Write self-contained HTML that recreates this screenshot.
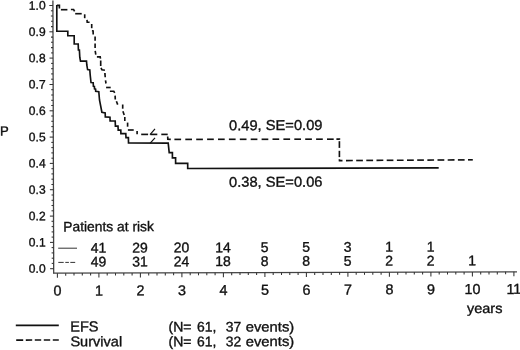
<!DOCTYPE html><html><head><meta charset="utf-8"><title>Figure</title><style>html,body{margin:0;padding:0;background:#fff}svg{display:block;will-change:transform}text{font-family:"Liberation Sans",Arial,sans-serif;fill:#111;stroke:#111;stroke-width:0.35px}</style></head><body>
<svg width="520" height="350" viewBox="0 0 520 350">
<rect width="520" height="350" fill="#fff"/>
<g stroke="#444" stroke-width="1.3" fill="none">
<line x1="52.9" y1="0.5" x2="53.7" y2="273.3"/>
<line x1="53" y1="273.2" x2="517" y2="271.8"/>
</g>
<g stroke="#333" stroke-width="1.05" fill="none">
<line x1="50.1" y1="268.7" x2="53.7" y2="268.7"/>
<line x1="51.7" y1="263.4" x2="53.7" y2="263.4"/>
<line x1="51.7" y1="258.2" x2="53.7" y2="258.2"/>
<line x1="51.6" y1="252.9" x2="53.6" y2="252.9"/>
<line x1="51.6" y1="247.6" x2="53.6" y2="247.6"/>
<line x1="50.0" y1="242.4" x2="53.6" y2="242.4"/>
<line x1="51.6" y1="237.1" x2="53.6" y2="237.1"/>
<line x1="51.6" y1="231.9" x2="53.6" y2="231.9"/>
<line x1="51.6" y1="226.6" x2="53.6" y2="226.6"/>
<line x1="51.5" y1="221.3" x2="53.5" y2="221.3"/>
<line x1="49.9" y1="216.1" x2="53.5" y2="216.1"/>
<line x1="51.5" y1="210.8" x2="53.5" y2="210.8"/>
<line x1="51.5" y1="205.5" x2="53.5" y2="205.5"/>
<line x1="51.5" y1="200.3" x2="53.5" y2="200.3"/>
<line x1="51.5" y1="195.0" x2="53.5" y2="195.0"/>
<line x1="49.9" y1="189.7" x2="53.5" y2="189.7"/>
<line x1="51.4" y1="184.5" x2="53.4" y2="184.5"/>
<line x1="51.4" y1="179.2" x2="53.4" y2="179.2"/>
<line x1="51.4" y1="173.9" x2="53.4" y2="173.9"/>
<line x1="51.4" y1="168.7" x2="53.4" y2="168.7"/>
<line x1="49.8" y1="163.4" x2="53.4" y2="163.4"/>
<line x1="51.4" y1="158.2" x2="53.4" y2="158.2"/>
<line x1="51.3" y1="152.9" x2="53.3" y2="152.9"/>
<line x1="51.3" y1="147.6" x2="53.3" y2="147.6"/>
<line x1="51.3" y1="142.4" x2="53.3" y2="142.4"/>
<line x1="49.7" y1="137.1" x2="53.3" y2="137.1"/>
<line x1="51.3" y1="131.8" x2="53.3" y2="131.8"/>
<line x1="51.3" y1="126.6" x2="53.3" y2="126.6"/>
<line x1="51.3" y1="121.3" x2="53.3" y2="121.3"/>
<line x1="51.2" y1="116.0" x2="53.2" y2="116.0"/>
<line x1="49.6" y1="110.8" x2="53.2" y2="110.8"/>
<line x1="51.2" y1="105.5" x2="53.2" y2="105.5"/>
<line x1="51.2" y1="100.3" x2="53.2" y2="100.3"/>
<line x1="51.2" y1="95.0" x2="53.2" y2="95.0"/>
<line x1="51.2" y1="89.7" x2="53.2" y2="89.7"/>
<line x1="49.5" y1="84.5" x2="53.1" y2="84.5"/>
<line x1="51.1" y1="79.2" x2="53.1" y2="79.2"/>
<line x1="51.1" y1="73.9" x2="53.1" y2="73.9"/>
<line x1="51.1" y1="68.7" x2="53.1" y2="68.7"/>
<line x1="51.1" y1="63.4" x2="53.1" y2="63.4"/>
<line x1="49.5" y1="58.1" x2="53.1" y2="58.1"/>
<line x1="51.1" y1="52.9" x2="53.1" y2="52.9"/>
<line x1="51.0" y1="47.6" x2="53.0" y2="47.6"/>
<line x1="51.0" y1="42.3" x2="53.0" y2="42.3"/>
<line x1="51.0" y1="37.1" x2="53.0" y2="37.1"/>
<line x1="49.4" y1="31.8" x2="53.0" y2="31.8"/>
<line x1="51.0" y1="26.6" x2="53.0" y2="26.6"/>
<line x1="51.0" y1="21.3" x2="53.0" y2="21.3"/>
<line x1="50.9" y1="16.0" x2="52.9" y2="16.0"/>
<line x1="50.9" y1="10.8" x2="52.9" y2="10.8"/>
<line x1="49.3" y1="5.5" x2="52.9" y2="5.5"/>
<line x1="57.4" y1="273.2" x2="57.4" y2="277.7"/>
<line x1="65.7" y1="273.2" x2="65.7" y2="275.7"/>
<line x1="74.0" y1="273.1" x2="74.0" y2="275.6"/>
<line x1="82.3" y1="273.1" x2="82.3" y2="275.6"/>
<line x1="90.6" y1="273.1" x2="90.6" y2="275.6"/>
<line x1="98.9" y1="273.1" x2="98.9" y2="277.6"/>
<line x1="107.2" y1="273.0" x2="107.2" y2="275.5"/>
<line x1="115.5" y1="273.0" x2="115.5" y2="275.5"/>
<line x1="123.8" y1="273.0" x2="123.8" y2="275.5"/>
<line x1="132.1" y1="273.0" x2="132.1" y2="275.5"/>
<line x1="140.4" y1="272.9" x2="140.4" y2="277.4"/>
<line x1="148.7" y1="272.9" x2="148.7" y2="275.4"/>
<line x1="157.0" y1="272.9" x2="157.0" y2="275.4"/>
<line x1="165.3" y1="272.9" x2="165.3" y2="275.4"/>
<line x1="173.6" y1="272.8" x2="173.6" y2="275.3"/>
<line x1="181.9" y1="272.8" x2="181.9" y2="277.3"/>
<line x1="190.2" y1="272.8" x2="190.2" y2="275.3"/>
<line x1="198.5" y1="272.8" x2="198.5" y2="275.3"/>
<line x1="206.8" y1="272.7" x2="206.8" y2="275.2"/>
<line x1="215.1" y1="272.7" x2="215.1" y2="275.2"/>
<line x1="223.4" y1="272.7" x2="223.4" y2="277.2"/>
<line x1="231.7" y1="272.7" x2="231.7" y2="275.2"/>
<line x1="240.0" y1="272.6" x2="240.0" y2="275.1"/>
<line x1="248.3" y1="272.6" x2="248.3" y2="275.1"/>
<line x1="256.6" y1="272.6" x2="256.6" y2="275.1"/>
<line x1="264.9" y1="272.6" x2="264.9" y2="277.1"/>
<line x1="273.2" y1="272.5" x2="273.2" y2="275.0"/>
<line x1="281.5" y1="272.5" x2="281.5" y2="275.0"/>
<line x1="289.8" y1="272.5" x2="289.8" y2="275.0"/>
<line x1="298.1" y1="272.5" x2="298.1" y2="275.0"/>
<line x1="306.4" y1="272.4" x2="306.4" y2="276.9"/>
<line x1="314.7" y1="272.4" x2="314.7" y2="274.9"/>
<line x1="323.0" y1="272.4" x2="323.0" y2="274.9"/>
<line x1="331.3" y1="272.4" x2="331.3" y2="274.9"/>
<line x1="339.6" y1="272.3" x2="339.6" y2="274.8"/>
<line x1="347.9" y1="272.3" x2="347.9" y2="276.8"/>
<line x1="356.2" y1="272.3" x2="356.2" y2="274.8"/>
<line x1="364.5" y1="272.3" x2="364.5" y2="274.8"/>
<line x1="372.8" y1="272.2" x2="372.8" y2="274.7"/>
<line x1="381.1" y1="272.2" x2="381.1" y2="274.7"/>
<line x1="389.4" y1="272.2" x2="389.4" y2="276.7"/>
<line x1="397.7" y1="272.2" x2="397.7" y2="274.7"/>
<line x1="406.0" y1="272.1" x2="406.0" y2="274.6"/>
<line x1="414.3" y1="272.1" x2="414.3" y2="274.6"/>
<line x1="422.6" y1="272.1" x2="422.6" y2="274.6"/>
<line x1="430.9" y1="272.1" x2="430.9" y2="276.6"/>
<line x1="439.2" y1="272.0" x2="439.2" y2="274.5"/>
<line x1="447.5" y1="272.0" x2="447.5" y2="274.5"/>
<line x1="455.8" y1="272.0" x2="455.8" y2="274.5"/>
<line x1="464.1" y1="272.0" x2="464.1" y2="274.5"/>
<line x1="472.4" y1="271.9" x2="472.4" y2="276.4"/>
<line x1="480.7" y1="271.9" x2="480.7" y2="274.4"/>
<line x1="489.0" y1="271.9" x2="489.0" y2="274.4"/>
<line x1="497.3" y1="271.9" x2="497.3" y2="274.4"/>
<line x1="505.6" y1="271.8" x2="505.6" y2="274.3"/>
<line x1="513.9" y1="271.8" x2="513.9" y2="276.3"/>
</g>
<g stroke="#111" stroke-width="1.65" fill="none" stroke-linejoin="miter">
<polyline points="56.8,5.0 56.8,31.2 67.8,31.2 67.8,35.7 74.2,35.7 74.2,44 78.2,44 78.4,50 79.4,50 79.8,57.5 80.5,61.1 86.5,61.1 86.8,65 87.6,69.6 89.8,69.9 90.2,75 91,82.6 93.2,82.8 93.4,86.3 94.4,86.5 94.5,88.8 95.6,89.2 95.7,91.3 98.8,91.7 99.5,100 101.9,112.2 105.2,113 105.3,116.9 110,117.2 110.1,121 115.2,121 115.4,126.1 118,126.1 118.2,130.1 120.8,130.1 120.9,133.6 125.8,133.6 126,137.6 128.4,137.6 128.5,142.9 168.2,143.1 169.2,152.6 172.4,152.6 172.4,157.8 175.6,157.8 175.6,163.3 187.7,163.3 187.7,168.5 438.7,167.8"/>
<line x1="150.2" y1="143.1" x2="155" y2="137.9" stroke-width="1.2"/>
<line x1="150" y1="134.6" x2="155" y2="128.8" stroke-width="1.2"/>
</g>
<g stroke="#111" stroke-width="1.65" fill="none">
<polyline points="56.9,5.4 59.4,5.4 59.4,8.4"/>
<polyline points="60.9,9.7 67.4,9.7"/>
<polyline points="70.9,9.5 73.6,9.5 74.6,11.3"/>
<polyline points="75.2,13.7 81.7,13.7"/>
<polyline points="84.7,14.3 84.7,18.2"/>
<polyline points="87.0,19.9 87.2,22.1 89.6,22.2"/>
<polyline points="91.7,24.0 91.7,28.2"/>
<polyline points="91.9,30.8 93.1,30.9 93.2,34.5"/>
<polyline points="95.1,36.4 95.1,40.8"/>
<polyline points="95.1,43.6 95.1,48.1"/>
<polyline points="95.2,50.8 95.8,54.7"/>
<polyline points="96.9,56.9 100.2,56.9 100.5,58.6"/>
<polyline points="100.7,60.5 100.7,66.0"/>
<polyline points="101.0,67.8 101.9,69.7 104.9,70.3"/>
<polyline points="104.9,73.0 105.2,77.3"/>
<polyline points="105.5,80.3 106.0,83.5"/>
<polyline points="106.1,87.5 110.7,87.5"/>
<polyline points="109.9,91.2 113.8,91.3 114.7,92.8"/>
<polyline points="115.1,95.6 115.3,99.5"/>
<polyline points="116.4,101.2 117.7,104.6"/>
<polyline points="122.7,104.5 122.7,108.7"/>
<polyline points="122.9,111.2 124.2,115.1"/>
<polyline points="124.8,117.0 124.8,121.0"/>
<polyline points="127.6,122.6 127.6,126.7"/>
<polyline points="127.9,130.0 133.7,130.0"/>
<polyline points="137.1,131.0 137.1,134.3"/>
<polyline points="141.2,134.4 148.1,134.4"/>
<polyline points="150.4,134.4 157.3,134.4"/>
<polyline points="161.3,134.4 167.7,134.4"/>
<polyline points="167.7,136.5 167.8,139.3 170.8,139.4"/>
<polyline points="174.4,139.4 181.1,139.4"/>
<polyline points="185.3,139.4 192.0,139.4"/>
<polyline points="196.2,139.4 202.9,139.4"/>
<polyline points="207.1,139.3 213.8,139.3"/>
<polyline points="218.0,139.3 224.7,139.3"/>
<polyline points="228.9,139.3 235.6,139.3"/>
<polyline points="239.8,139.3 246.5,139.3"/>
<polyline points="250.7,139.3 257.4,139.3"/>
<polyline points="261.6,139.3 268.3,139.3"/>
<polyline points="272.5,139.2 279.2,139.2"/>
<polyline points="283.4,139.2 290.1,139.2"/>
<polyline points="294.3,139.2 301.0,139.2"/>
<polyline points="305.2,139.2 311.9,139.2"/>
<polyline points="316.1,139.2 322.8,139.2"/>
<polyline points="327.0,139.2 333.7,139.2"/>
<polyline points="336.4,139.1 339.4,139.1 339.4,139.8"/>
<polyline points="339.4,141.2 339.4,147.9"/>
<polyline points="339.4,150.8 339.4,157.1"/>
<polyline points="339.4,159.2 339.5,160.6 342.5,160.6"/>
<polyline points="346.0,160.6 352.8,160.5"/>
<polyline points="356.2,160.5 362.9,160.5"/>
<polyline points="366.3,160.4 373.1,160.4"/>
<polyline points="376.5,160.4 383.3,160.3"/>
<polyline points="386.7,160.3 393.4,160.3"/>
<polyline points="396.9,160.3 403.6,160.2"/>
<polyline points="407.0,160.2 413.8,160.2"/>
<polyline points="417.2,160.1 423.9,160.1"/>
<polyline points="427.4,160.1 434.1,160.0"/>
<polyline points="437.5,160.0 444.3,160.0"/>
<polyline points="447.7,160.0 454.5,159.9"/>
<polyline points="457.9,159.9 464.6,159.9"/>
<polyline points="468.0,159.8 472.8,159.8"/>
</g>
<text transform="translate(45.60 272.80) rotate(-0.2)" font-size="12.2" text-anchor="end" textLength="16.8" lengthAdjust="spacingAndGlyphs">0.0</text>
<text transform="translate(45.60 246.48) rotate(-0.2)" font-size="12.2" text-anchor="end" textLength="16.8" lengthAdjust="spacingAndGlyphs">0.1</text>
<text transform="translate(45.60 220.16) rotate(-0.2)" font-size="12.2" text-anchor="end" textLength="16.8" lengthAdjust="spacingAndGlyphs">0.2</text>
<text transform="translate(45.60 193.84) rotate(-0.2)" font-size="12.2" text-anchor="end" textLength="16.8" lengthAdjust="spacingAndGlyphs">0.3</text>
<text transform="translate(45.60 167.52) rotate(-0.2)" font-size="12.2" text-anchor="end" textLength="16.8" lengthAdjust="spacingAndGlyphs">0.4</text>
<text transform="translate(45.60 141.20) rotate(-0.2)" font-size="12.2" text-anchor="end" textLength="16.8" lengthAdjust="spacingAndGlyphs">0.5</text>
<text transform="translate(45.60 114.88) rotate(-0.2)" font-size="12.2" text-anchor="end" textLength="16.8" lengthAdjust="spacingAndGlyphs">0.6</text>
<text transform="translate(45.60 88.56) rotate(-0.2)" font-size="12.2" text-anchor="end" textLength="16.8" lengthAdjust="spacingAndGlyphs">0.7</text>
<text transform="translate(45.60 62.24) rotate(-0.2)" font-size="12.2" text-anchor="end" textLength="16.8" lengthAdjust="spacingAndGlyphs">0.8</text>
<text transform="translate(45.60 35.92) rotate(-0.2)" font-size="12.2" text-anchor="end" textLength="16.8" lengthAdjust="spacingAndGlyphs">0.9</text>
<text transform="translate(45.60 9.60) rotate(-0.2)" font-size="12.2" text-anchor="end" textLength="16.8" lengthAdjust="spacingAndGlyphs">1.0</text>
<text transform="translate(57.40 295.60) rotate(-0.2)" font-size="14.4" text-anchor="middle">0</text>
<text transform="translate(98.90 295.44) rotate(-0.2)" font-size="14.4" text-anchor="middle">1</text>
<text transform="translate(140.40 295.28) rotate(-0.2)" font-size="14.4" text-anchor="middle">2</text>
<text transform="translate(181.90 295.13) rotate(-0.2)" font-size="14.4" text-anchor="middle">3</text>
<text transform="translate(223.40 294.97) rotate(-0.2)" font-size="14.4" text-anchor="middle">4</text>
<text transform="translate(264.90 294.81) rotate(-0.2)" font-size="14.4" text-anchor="middle">5</text>
<text transform="translate(306.40 294.65) rotate(-0.2)" font-size="14.4" text-anchor="middle">6</text>
<text transform="translate(347.90 294.49) rotate(-0.2)" font-size="14.4" text-anchor="middle">7</text>
<text transform="translate(389.40 294.34) rotate(-0.2)" font-size="14.4" text-anchor="middle">8</text>
<text transform="translate(430.90 294.18) rotate(-0.2)" font-size="14.4" text-anchor="middle">9</text>
<text transform="translate(472.40 294.02) rotate(-0.2)" font-size="14.4" text-anchor="middle">10</text>
<text transform="translate(513.90 293.86) rotate(-0.2)" font-size="14.4" text-anchor="middle">11</text>
<text transform="translate(-0.10 135.40) rotate(-0.2)" font-size="13.2">P</text>
<text transform="translate(229.00 130.20) rotate(-0.2)" font-size="14.3" textLength="93.5" lengthAdjust="spacingAndGlyphs">0.49, SE=0.09</text>
<text transform="translate(229.00 186.90) rotate(-0.2)" font-size="14.3" textLength="93.5" lengthAdjust="spacingAndGlyphs">0.38, SE=0.06</text>
<text transform="translate(63.30 231.40) rotate(-0.2)" font-size="13.8" textLength="90.6" lengthAdjust="spacingAndGlyphs">Patients at risk</text>
<line x1="58.2" y1="248.2" x2="77" y2="248.2" stroke="#333" stroke-width="1"/>
<line x1="58.3" y1="262.4" x2="75.2" y2="262.4" stroke="#333" stroke-width="1" stroke-dasharray="5.4 1.6 3.6 1.4 5"/>
<text transform="translate(98.60 252.60) rotate(-0.2)" font-size="14" text-anchor="middle">41</text>
<text transform="translate(140.10 252.45) rotate(-0.2)" font-size="14" text-anchor="middle">29</text>
<text transform="translate(181.60 252.30) rotate(-0.2)" font-size="14" text-anchor="middle">20</text>
<text transform="translate(223.10 252.15) rotate(-0.2)" font-size="14" text-anchor="middle">14</text>
<text transform="translate(264.60 252.00) rotate(-0.2)" font-size="14" text-anchor="middle">5</text>
<text transform="translate(306.10 251.85) rotate(-0.2)" font-size="14" text-anchor="middle">5</text>
<text transform="translate(347.60 251.70) rotate(-0.2)" font-size="14" text-anchor="middle">3</text>
<text transform="translate(389.10 251.55) rotate(-0.2)" font-size="14" text-anchor="middle">1</text>
<text transform="translate(430.60 251.40) rotate(-0.2)" font-size="14" text-anchor="middle">1</text>
<text transform="translate(98.60 266.50) rotate(-0.2)" font-size="14" text-anchor="middle">49</text>
<text transform="translate(140.10 266.36) rotate(-0.2)" font-size="14" text-anchor="middle">31</text>
<text transform="translate(181.60 266.22) rotate(-0.2)" font-size="14" text-anchor="middle">24</text>
<text transform="translate(223.10 266.07) rotate(-0.2)" font-size="14" text-anchor="middle">18</text>
<text transform="translate(264.60 265.93) rotate(-0.2)" font-size="14" text-anchor="middle">8</text>
<text transform="translate(306.10 265.79) rotate(-0.2)" font-size="14" text-anchor="middle">8</text>
<text transform="translate(347.60 265.65) rotate(-0.2)" font-size="14" text-anchor="middle">5</text>
<text transform="translate(389.10 265.51) rotate(-0.2)" font-size="14" text-anchor="middle">2</text>
<text transform="translate(430.60 265.37) rotate(-0.2)" font-size="14" text-anchor="middle">2</text>
<text transform="translate(472.10 265.23) rotate(-0.2)" font-size="14" text-anchor="middle">1</text>
<text transform="translate(466.90 313.00) rotate(-0.2)" font-size="13.8" textLength="35.5" lengthAdjust="spacingAndGlyphs">years</text>
<line x1="15.8" y1="325.4" x2="58.8" y2="325.3" stroke="#111" stroke-width="1.7"/>
<line x1="16.2" y1="340.1" x2="58.8" y2="340" stroke="#111" stroke-width="1.6" stroke-dasharray="7 2.6 6.4 2.6 6.4 2.6 6.4 2.6 6"/>
<text transform="translate(70.20 331.60) rotate(-0.2)" font-size="14.6" textLength="28.3" lengthAdjust="spacingAndGlyphs">EFS</text>
<text transform="translate(70.40 346.30) rotate(-0.2)" font-size="14" textLength="51.8" lengthAdjust="spacingAndGlyphs">Survival</text>
<text transform="translate(168.50 331.60) rotate(-0.2)" font-size="13.8" textLength="23" lengthAdjust="spacingAndGlyphs">(N=</text>
<text transform="translate(196.90 331.60) rotate(-0.2)" font-size="13.8" textLength="19.4" lengthAdjust="spacingAndGlyphs">61,</text>
<text transform="translate(225.70 331.60) rotate(-0.2)" font-size="13.8" textLength="15.5" lengthAdjust="spacingAndGlyphs">37</text>
<text transform="translate(245.70 331.60) rotate(-0.2)" font-size="13.8" textLength="48.5" lengthAdjust="spacingAndGlyphs">events)</text>
<text transform="translate(168.50 346.20) rotate(-0.2)" font-size="13.8" textLength="23" lengthAdjust="spacingAndGlyphs">(N=</text>
<text transform="translate(196.90 346.20) rotate(-0.2)" font-size="13.8" textLength="19.4" lengthAdjust="spacingAndGlyphs">61,</text>
<text transform="translate(225.70 346.20) rotate(-0.2)" font-size="13.8" textLength="15.5" lengthAdjust="spacingAndGlyphs">32</text>
<text transform="translate(245.70 346.20) rotate(-0.2)" font-size="13.8" textLength="48.5" lengthAdjust="spacingAndGlyphs">events)</text>
</svg></body></html>
